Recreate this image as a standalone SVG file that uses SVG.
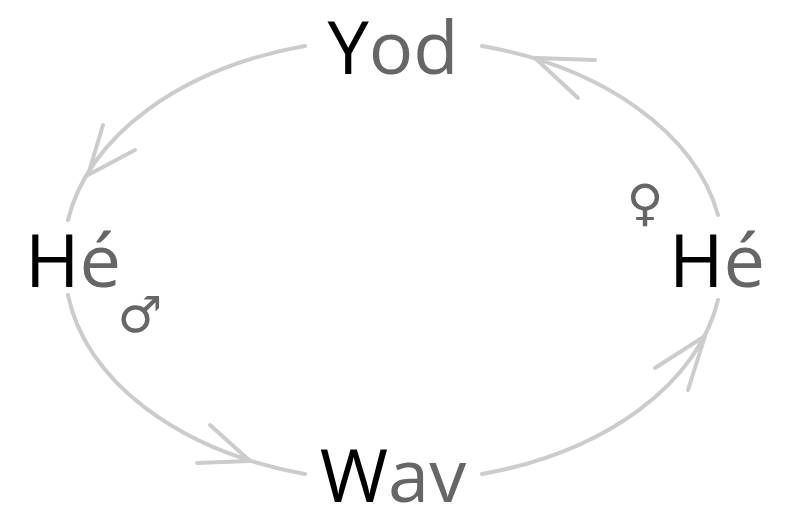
<svg xmlns="http://www.w3.org/2000/svg" width="790" height="527" viewBox="0 0 790 527">
<style>
.c{fill:none;stroke:#cccccc;stroke-width:4;stroke-linecap:round}
.t{font-family:"Open Sans","Noto Sans",sans-serif;font-size:74px;fill:#000}
.g{fill:#666}
.s{font-family:"DejaVu Sans",sans-serif;font-size:50px;fill:#666}
</style>
<rect width="790" height="527" fill="#fff"/>
<g id="connectors">
<path class="c" d="M305 46 A325 215 0 0 0 68 220"/>
<path class="c" d="M68 295 A325 215 0 0 0 305 474"/>
<path class="c" d="M482 474 A325 215 0 0 0 718 300"/>
<path class="c" d="M718 215 A325 215 0 0 0 482 46"/>
<path class="c" d="M103 125 L88 175 L135 150"/>
<path class="c" d="M210 425 L250 461 L197 463"/>
<path class="c" d="M655 368 L705 336 L688 390"/>
<path class="c" d="M595 60 L535 58 L578 98"/>
</g>
<g id="yod"><text class="t" x="393" y="74" text-anchor="middle">Y<tspan class="g">od</tspan></text></g>
<g id="he-left"><text class="t" x="25" y="287">H<tspan class="g">é</tspan></text><text class="s" x="140" y="332" text-anchor="middle">♂</text></g>
<g id="he-right"><text class="t" x="765" y="287" text-anchor="end">H<tspan class="g">é</tspan></text><text class="s" x="645" y="220" text-anchor="middle">♀</text></g>
<g id="wav"><text class="t" x="393" y="502" text-anchor="middle">W<tspan class="g">av</tspan></text></g>
</svg>
